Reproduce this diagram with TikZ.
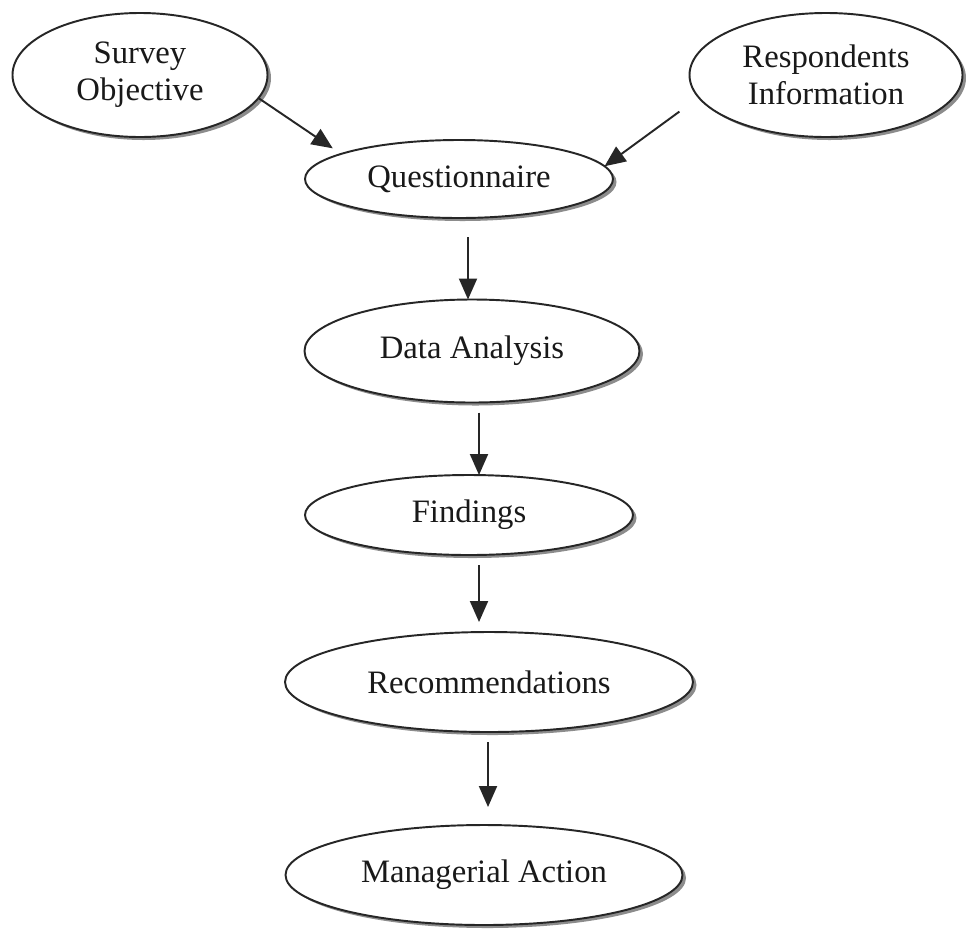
\documentclass[tikz,border=0pt]{standalone}
\usepackage{fontspec}
\setmainfont{Liberation Serif}
\usetikzlibrary{shapes.geometric,arrows.meta,shadows}

\begin{document}
\begin{tikzpicture}[
          every node/.style={font=\fontsize{18.6}{21}\selectfont,text=black!90},
          oval/.style={ellipse,draw=black!85,line width=1.1pt,fill=white,inner sep=0pt,outer sep=0pt,align=center,
            drop shadow={shadow xshift=0.07cm,shadow yshift=-0.06cm,fill=black!45,opacity=1}},
          flow/.style={draw=black!85,line width=1.1pt,-{Triangle[length=0.42cm,width=0.36cm]}}]
          \useasboundingbox[fill=white] (0,0) rectangle (19.32,-18.58);
          \node[oval,minimum width=5.1cm,minimum height=2.48cm] (survey) at (2.8,-1.5) {Survey\\Objective};
          \node[oval,minimum width=5.46cm,minimum height=2.48cm] (resp) at (16.52,-1.5) {Respondents\\Information};
          \node[oval,minimum width=6.16cm,minimum height=1.56cm] (quest) at (9.18,-3.58) {Questionnaire};
          \node[oval,minimum width=6.7cm,minimum height=2.06cm] (data) at (9.44,-7.02) {Data Analysis};
          \node[oval,minimum width=6.56cm,minimum height=1.6cm] (find) at (9.38,-10.3) {Findings};
          \node[oval,minimum width=8.16cm,minimum height=2cm] (recom) at (9.78,-13.64) {Recommendations};
          \node[oval,minimum width=7.94cm,minimum height=2cm] (manag) at (9.68,-17.5) {Managerial Action};
          \draw[flow,shorten >=0.2cm] (survey.-11) -- (quest.168);
          \draw[flow,shorten <=0.48cm] (resp.190) -- (quest.5);
          \draw[flow,shorten <=0.38cm] ([xshift=0.18cm]quest.south) -- ([xshift=-0.08cm]data.north);
          \draw[flow,shorten <=0.2cm] ([xshift=0.14cm]data.south) -- ([xshift=0.2cm]find.north);
          \draw[flow,shorten <=0.2cm,shorten >=0.2cm] ([xshift=0.2cm]find.south) -- ([xshift=-0.2cm]recom.north);
          \draw[flow,shorten <=0.2cm,shorten >=0.36cm] ([xshift=-0.02cm]recom.south) -- ([xshift=0.08cm]manag.north);
        \end{tikzpicture}
\end{document}
